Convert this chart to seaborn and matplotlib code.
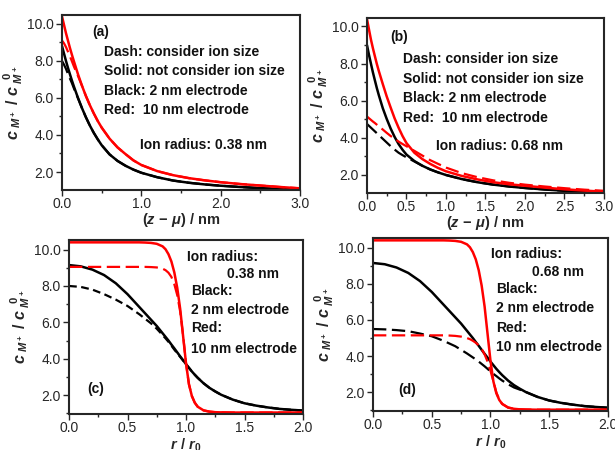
import matplotlib
matplotlib.use("Agg")
import matplotlib.pyplot as plt
import seaborn as sns
from matplotlib.ticker import MultipleLocator, FormatStrFormatter

# ---- panels (a), (b): distance from the electrode surface
x_ab = [0, 0.025, 0.05, 0.075, 0.1, 0.125, 0.15, 0.2, 0.25, 0.3, 0.35, 0.4, 0.45, 0.5,
        0.6, 0.7, 0.8, 0.9, 1.0, 1.2, 1.4, 1.6, 1.8, 2.0, 2.25, 2.5, 2.75, 3.0]

# (a) ion radius 0.38 nm
a_red_solid = [10.4, 9.95, 9.5, 9.1, 8.7, 8.33, 7.98, 7.3, 6.68, 6.12, 5.62, 5.17, 4.76, 4.4,
               3.8, 3.33, 2.97, 2.63, 2.38, 2.05, 1.83, 1.67, 1.55, 1.45, 1.35, 1.27, 1.19, 1.12]
a_red_dash = [9.1, 8.95, 8.75, 8.5, 8.25, 7.98, 7.7, 7.2, 6.68, 6.12, 5.62, 5.17, 4.76, 4.4,
              3.8, 3.33, 2.97, 2.63, 2.38, 2.05, 1.83, 1.67, 1.55, 1.45, 1.35, 1.27, 1.19, 1.12]
a_black_solid = [8.8, 8.4, 8.0, 7.63, 7.28, 6.94, 6.62, 6.02, 5.47, 4.97, 4.52, 4.12, 3.77, 3.45,
                 2.95, 2.6, 2.34, 2.13, 1.96, 1.72, 1.54, 1.42, 1.33, 1.26, 1.19, 1.13, 1.08, 1.05]
a_black_dash = [8.0, 7.8, 7.57, 7.3, 7.05, 6.8, 6.52, 6.0, 5.47, 4.97, 4.52, 4.12, 3.77, 3.45,
                2.95, 2.6, 2.34, 2.13, 1.96, 1.72, 1.54, 1.42, 1.33, 1.26, 1.19, 1.13, 1.08, 1.05]

# (b) ion radius 0.68 nm
b_red_solid = [10.4, 9.85, 9.3, 8.83, 8.4, 7.98, 7.6, 6.9, 6.23, 5.63, 5.05, 4.55, 4.1, 3.72,
               3.2, 2.86, 2.6, 2.38, 2.2, 1.95, 1.76, 1.61, 1.5, 1.42, 1.32, 1.23, 1.16, 1.1]
b_red_dash = [5.15, 5.06, 4.97, 4.88, 4.8, 4.71, 4.62, 4.45, 4.27, 4.1, 3.95, 3.8, 3.67, 3.55,
              3.3, 3.05, 2.8, 2.6, 2.4, 2.1, 1.88, 1.71, 1.58, 1.48, 1.38, 1.29, 1.21, 1.15]
b_black_solid = [9.0, 8.48, 8.0, 7.53, 7.1, 6.68, 6.3, 5.6, 5.02, 4.5, 4.05, 3.67, 3.36, 3.1,
                 2.75, 2.5, 2.3, 2.14, 2.0, 1.78, 1.61, 1.48, 1.38, 1.3, 1.22, 1.15, 1.09, 1.05]
b_black_dash = [4.75, 4.65, 4.55, 4.45, 4.35, 4.25, 4.15, 3.95, 3.75, 3.55, 3.37, 3.2, 3.07, 2.95,
                2.73, 2.5, 2.3, 2.14, 2.0, 1.78, 1.61, 1.48, 1.38, 1.3, 1.22, 1.15, 1.09, 1.05]

# ---- panels (c), (d): radial profiles inside the pore
x_cd = [0, 0.1, 0.2, 0.3, 0.4, 0.5, 0.6, 0.65, 0.7, 0.75, 0.8, 0.825, 0.85, 0.875, 0.9, 0.925,
        0.95, 0.975, 1.0, 1.025, 1.05, 1.075, 1.1, 1.15, 1.2, 1.25, 1.3, 1.4, 1.5, 1.6, 1.7,
        1.8, 1.9, 2.0]
cd_red_solid = [10.4, 10.4, 10.4, 10.4, 10.4, 10.4, 10.4, 10.39, 10.37, 10.32, 10.18, 10.02,
                9.75, 9.35, 8.75, 7.9, 6.75, 5.25, 3.75, 2.6, 1.95, 1.58, 1.36, 1.16, 1.09,
                1.06, 1.05, 1.04, 1.04, 1.04, 1.04, 1.04, 1.04, 1.04]
cd_black_solid = [9.15, 9.08, 8.9, 8.6, 8.15, 7.55, 6.85, 6.5, 6.15, 5.8, 5.4, 5.2, 5.0, 4.78,
                  4.57, 4.35, 4.13, 3.92, 3.7, 3.5, 3.3, 3.12, 2.95, 2.65, 2.4, 2.2, 2.02,
                  1.75, 1.55, 1.42, 1.32, 1.24, 1.19, 1.15]
c_red_dash = [9.05, 9.05, 9.05, 9.05, 9.05, 9.05, 9.05, 9.05, 9.04, 9.02, 8.95, 8.87, 8.73,
              8.5, 8.1, 7.5, 6.6, 5.3, 3.75, 2.6, 1.95, 1.58, 1.36, 1.16, 1.09, 1.06, 1.05,
              1.04, 1.04, 1.04, 1.04, 1.04, 1.04, 1.04]
c_black_dash = [8.0, 7.95, 7.8, 7.55, 7.25, 6.9, 6.45, 6.2, 5.95, 5.65, 5.3, 5.12, 4.93, 4.72,
                4.5, 4.3, 4.1, 3.9, 3.7, 3.5, 3.3, 3.12, 2.95, 2.65, 2.4, 2.2, 2.02, 1.75,
                1.55, 1.42, 1.32, 1.24, 1.19, 1.15]
d_red_dash = [5.15, 5.15, 5.15, 5.15, 5.15, 5.15, 5.15, 5.14, 5.12, 5.08, 5.0, 4.94, 4.85,
              4.74, 4.6, 4.4, 4.1, 3.7, 3.2, 2.6, 2.0, 1.6, 1.36, 1.16, 1.09, 1.06, 1.05,
              1.04, 1.04, 1.04, 1.04, 1.04, 1.04, 1.04]
d_black_dash = [5.5, 5.48, 5.44, 5.38, 5.25, 5.1, 4.85, 4.7, 4.55, 4.35, 4.15, 4.04, 3.93, 3.82,
                3.7, 3.57, 3.44, 3.3, 3.15, 3.02, 2.9, 2.77, 2.65, 2.45, 2.27, 2.15, 2.02,
                1.75, 1.55, 1.42, 1.32, 1.24, 1.19, 1.15]

legend_lines = ["Dash: consider ion size", "Solid: not consider ion size",
                "Black: 2 nm electrode", "Red:  10 nm electrode"]
radial_lines = ["Black:", "2 nm electrode", "Red:", "10 nm electrode"]

sns.set_theme(style="ticks")
plt.rcParams["font.family"] = ["Liberation Sans", "DejaVu Sans"]
plt.rcParams["mathtext.fontset"] = "custom"
plt.rcParams["mathtext.it"] = "Liberation Sans:italic:bold"
plt.rcParams["mathtext.rm"] = "Liberation Sans:bold"
plt.rcParams["mathtext.bf"] = "Liberation Sans:bold"

fig = plt.figure(figsize=(6.15, 4.5), dpi=100)
ax_a = fig.add_axes([0.1008, 0.5778, 0.387, 0.389])
ax_b = fig.add_axes([0.5967, 0.5711, 0.3854, 0.389])
ax_c = fig.add_axes([0.1122, 0.0800, 0.3805, 0.3867])
ax_d = fig.add_axes([0.6065, 0.0867, 0.3820, 0.3840])

RED = "#ff0000"
long_dash = (0, (6, 2.5))
short_dash = (0, (3.5, 2))


def draw(ax, x, red_solid, red_dash, black_solid, black_dash, black_style):
    sns.lineplot(x=x, y=black_solid, color="black", lw=1.8, ax=ax)
    sns.lineplot(x=x, y=black_dash, color="black", lw=1.6, linestyle=black_style, ax=ax)
    sns.lineplot(x=x, y=red_dash, color=RED, lw=1.6, linestyle=long_dash, ax=ax)
    sns.lineplot(x=x, y=red_solid, color=RED, lw=1.8, ax=ax)


draw(ax_a, x_ab, a_red_solid, a_red_dash, a_black_solid, a_black_dash, long_dash)
draw(ax_b, x_ab, b_red_solid, b_red_dash, b_black_solid, b_black_dash, long_dash)
draw(ax_c, x_cd, cd_red_solid, c_red_dash, cd_black_solid, c_black_dash, short_dash)
draw(ax_d, x_cd, cd_red_solid, d_red_dash, cd_black_solid, d_black_dash, long_dash)

ylab = r"$c_{\ M^+}\ \mathrm{/}\ c_{\ M^+}^{\ \ 0}$"
for ax in (ax_a, ax_b, ax_c, ax_d):
    ax.yaxis.set_major_locator(MultipleLocator(2))
    ax.yaxis.set_minor_locator(MultipleLocator(1))
    ax.yaxis.set_major_formatter(FormatStrFormatter("%.1f"))
    ax.xaxis.set_major_formatter(FormatStrFormatter("%.1f"))
    ax.tick_params(which="major", length=4, width=1, labelsize=10, pad=2)
    ax.tick_params(axis="x", which="major", pad=1)
    ax.tick_params(which="minor", length=2.5, width=1)
    ax.tick_params(top=False, right=False)
    for s in ax.spines.values():
        s.set_linewidth(1.5)
        s.set_visible(True)
    ax.set_ylabel(ylab, fontsize=11.5, labelpad=1)

ax_a.set_ylim(1.03, 10.48)
ax_b.set_ylim(1.03, 10.46)
ax_c.set_ylim(0.96, 10.53)
ax_d.set_ylim(0.97, 10.52)

ax_a.set_xlim(0, 3)
ax_a.xaxis.set_major_locator(MultipleLocator(1))
ax_a.xaxis.set_minor_locator(MultipleLocator(0.5))
ax_b.set_xlim(0, 3)
ax_b.xaxis.set_major_locator(MultipleLocator(0.5))
ax_b.xaxis.set_minor_locator(MultipleLocator(0.25))
for ax in (ax_c, ax_d):
    ax.set_xlim(0, 2)
    ax.xaxis.set_major_locator(MultipleLocator(0.5))
    ax.xaxis.set_minor_locator(MultipleLocator(0.25))

xlab_ab = r"$\mathrm{(}z\ \mathrm{-}\ \mu\mathrm{)\ /\ nm}$"
ax_a.set_xlabel(xlab_ab, fontsize=10.5, labelpad=0)
ax_b.set_xlabel(xlab_ab, fontsize=10.5, labelpad=0)
ax_c.set_xlabel(r"$r\ \mathrm{/}\ r_0$", fontsize=10.5, labelpad=1)
ax_d.set_xlabel(r"$r\ \mathrm{/}\ r_0$", fontsize=10.5, labelpad=1)

tkw = dict(fontsize=10, fontweight="bold", va="center", ha="left", color="#111111")

# panel (a) annotations
ax_a.text(0.126, 0.903, "(a)", transform=ax_a.transAxes, **tkw)
for i, t in enumerate(legend_lines):
    ax_a.text(0.176, 0.789 - i * 0.111, t, transform=ax_a.transAxes, **tkw)
ax_a.text(0.328, 0.257, "Ion radius: 0.38 nm", transform=ax_a.transAxes, **tkw)

# panel (b) annotations
ax_b.text(0.10, 0.89, "(b)", transform=ax_b.transAxes, **tkw)
for i, t in enumerate(legend_lines):
    ax_b.text(0.152, 0.766 - i * 0.112, t, transform=ax_b.transAxes, **tkw)
ax_b.text(0.291, 0.269, "Ion radius: 0.68 nm", transform=ax_b.transAxes, **tkw)

# panel (c) annotations
ax_c.text(0.504, 0.902, "Ion radius:", transform=ax_c.transAxes, **tkw)
ax_c.text(0.675, 0.805, "0.38 nm", transform=ax_c.transAxes, **tkw)
for t, yy in zip(radial_lines, [0.707, 0.598, 0.494, 0.374]):
    ax_c.text(0.521, yy, t, transform=ax_c.transAxes, **tkw)
ax_c.text(0.077, 0.144, "(c)", transform=ax_c.transAxes, **tkw)

# panel (d) annotations
ax_d.text(0.502, 0.908, "Ion radius:", transform=ax_d.transAxes, **tkw)
ax_d.text(0.677, 0.803, "0.68 nm", transform=ax_d.transAxes, **tkw)
for t, yy in zip(radial_lines, [0.705, 0.595, 0.48, 0.37]):
    ax_d.text(0.523, yy, t, transform=ax_d.transAxes, **tkw)
ax_d.text(0.106, 0.121, "(d)", transform=ax_d.transAxes, **tkw)

fig.savefig("out.png", dpi=100)
